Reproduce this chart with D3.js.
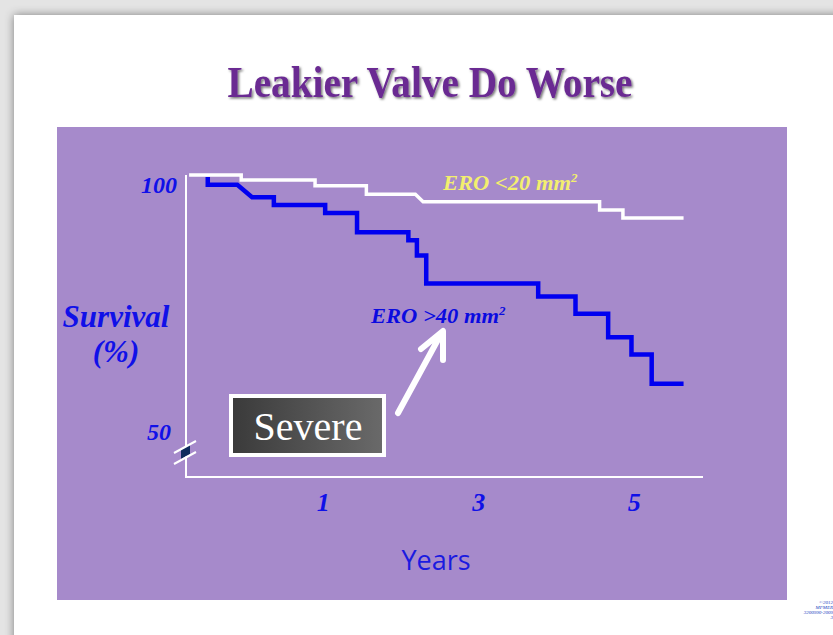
<!DOCTYPE html>
<html>
<head>
<meta charset="utf-8">
<script src="https://cdnjs.cloudflare.com/ajax/libs/d3/7.8.5/d3.min.js"></script>
<style>
  html, body { margin: 0; padding: 0; background: #e4e4e4; }
  svg { display: block; }
</style>
</head>
<body>
<div id="my_dataviz"></div>
<script>

// survival curves (time in years, survival in %)
var smallTime = [-0.72, -0.05, -0.05, 0.90, 0.90, 1.56, 1.56, 2.19, 2.29, 4.56, 4.56, 4.86, 4.86, 5.64]
var smallSurv = [100, 100, 99.0, 99.0, 97.8, 97.8, 96.1, 96.1, 94.6, 94.6, 92.9, 92.9, 91.3, 91.3]

var largeTime = [-0.48, -0.48, -0.10, 0.09, 0.37, 0.37, 1.03, 1.03, 1.44, 1.44, 2.10, 2.10, 2.21, 2.21,
                 2.33, 2.33, 3.77, 3.77, 4.25, 4.25, 4.67, 4.67, 4.97, 4.97, 5.23, 5.23, 5.64]
var largeSurv = [99.6, 98.0, 98.0, 95.5, 95.5, 93.9, 93.9, 92.3, 92.3, 88.4, 88.4, 86.8, 86.8, 83.7,
                 83.7, 78.0, 78.0, 75.4, 75.4, 71.9, 71.9, 67.1, 67.1, 63.6, 63.6, 57.7, 57.7]

var xTicks = [1, 3, 5]
var yTicks = [50, 100]

var width = 833, height = 635

var svg = d3.select("#my_dataviz")
  .append("svg")
    .attr("width", width)
    .attr("height", height)

var defs = svg.append("defs")

// slide shadow
var sh = defs.append("filter").attr("id", "slideShadow")
    .attr("x", "-10%").attr("y", "-10%").attr("width", "120%").attr("height", "120%")
sh.append("feDropShadow").attr("dx", 0).attr("dy", 0).attr("stdDeviation", 5)
    .attr("flood-color", "#000").attr("flood-opacity", 0.45)

var ts = defs.append("filter").attr("id", "titleShadow")
ts.append("feDropShadow").attr("dx", 1.5).attr("dy", 1.5).attr("stdDeviation", 1)
    .attr("flood-color", "#000").attr("flood-opacity", 0.55)

var grad = defs.append("linearGradient").attr("id", "boxGrad")
    .attr("x1", "0%").attr("x2", "100%").attr("y1", "0%").attr("y2", "0%")
grad.append("stop").attr("offset", "0%").attr("stop-color", "#3a3a3a")
grad.append("stop").attr("offset", "100%").attr("stop-color", "#6a6a6a")

// slide + purple panel
svg.append("rect")
    .attr("x", 14).attr("y", 15).attr("width", 860).attr("height", 660)
    .attr("fill", "#fff")
    .attr("filter", "url(#slideShadow)")

svg.append("rect")
    .attr("x", 57).attr("y", 127).attr("width", 730).attr("height", 473)
    .attr("fill", "#a68acb")

svg.append("text")
    .attr("x", 430).attr("y", 97)
    .attr("text-anchor", "middle")
    .attr("font-family", "'Liberation Serif', 'Times New Roman', serif")
    .attr("font-size", 45)
    .attr("font-weight", "bold")
    .attr("textLength", 405)
    .attr("lengthAdjust", "spacingAndGlyphs")
    .attr("fill", "#6a2b92")
    .attr("filter", "url(#titleShadow)")
    .text("Leakier Valve Do Worse")

// scales
var x = d3.scaleLinear()
    .domain([-0.76, 5.89])
    .range([186, 703])

var y = d3.scaleLinear()
    .domain([38.8, 100])
    .range([477, 175])

var serif = "'Liberation Serif', 'Times New Roman', serif"

// X axis labels
svg.append("g")
    .attr("transform", "translate(0," + y.range()[0] + ")")
    .call(d3.axisBottom(x).tickValues(xTicks).tickSize(0).tickPadding(16).tickFormat(d3.format("d")))
    .call(function(g) { g.select(".domain").remove() })
    .selectAll("text")
      .attr("font-family", serif)
      .attr("font-size", 26)
      .attr("font-weight", "bold")
      .attr("font-style", "italic")
      .attr("fill", "#1010e8")

// Y axis labels
svg.append("g")
    .attr("transform", "translate(" + x.range()[0] + ",0)")
    .call(d3.axisLeft(y).tickValues(yTicks).tickSize(0).tickFormat(d3.format("d")))
    .call(function(g) { g.select(".domain").remove() })
    .selectAll("text")
      .attr("x", function(d) { return d === 50 ? -15 : -9 })
      .attr("dy", "0.72em")
      .attr("font-family", serif)
      .attr("font-size", 24)
      .attr("font-weight", "bold")
      .attr("font-style", "italic")
      .attr("fill", "#1010e8")

// axis lines
svg.append("path")
    .attr("d", "M" + x.range()[0] + "," + y.range()[1] + "V" + y.range()[0] + "H" + x.range()[1])
    .attr("fill", "none")
    .attr("stroke", "#fff")
    .attr("stroke-width", 2)

// axis break mark
var brk = svg.append("g")
brk.append("path")
    .attr("d", "M181,449 L190,444 L190,454 L181,459 Z")
    .attr("fill", "#0d2a5c")
brk.append("path")
    .attr("d", "M174,453 L196,441 M174,464 L196,452")
    .attr("stroke", "#fff")
    .attr("stroke-width", 2)

// curves
var line = d3.line()
    .x(function(d) { return x(d[0]) })
    .y(function(d) { return y(d[1]) })

svg.append("path")
    .datum(d3.zip(smallTime, smallSurv))
    .attr("d", line)
    .attr("fill", "none")
    .attr("stroke", "#fff")
    .attr("stroke-width", 3.5)

svg.append("path")
    .datum(d3.zip(largeTime, largeSurv))
    .attr("d", line)
    .attr("fill", "none")
    .attr("stroke", "#0000f0")
    .attr("stroke-width", 4.5)

// series labels
function eroLabel(px, py, sign, fill) {
  var t = svg.append("text")
      .attr("x", px).attr("y", py)
      .attr("font-family", serif)
      .attr("font-size", 21)
      .attr("font-weight", "bold")
      .attr("font-style", "italic")
      .attr("fill", fill)
  t.append("tspan").attr("textLength", 128).attr("lengthAdjust", "spacingAndGlyphs").text("ERO " + sign + " mm")
  t.append("tspan").attr("dy", -8).attr("font-size", 13).text("2")
}
eroLabel(443, 190, "<20", "#f3ef6e")
eroLabel(371, 323, ">40", "#0a0ae0")

// axis titles
svg.append("text")
    .attr("x", 116).attr("y", 327)
    .attr("text-anchor", "middle")
    .attr("font-family", serif)
    .attr("font-size", 31)
    .attr("font-weight", "bold")
    .attr("font-style", "italic")
    .attr("fill", "#1010e8")
    .text("Survival")

svg.append("text")
    .attr("x", 116).attr("y", 362)
    .attr("text-anchor", "middle")
    .attr("font-family", serif)
    .attr("font-size", 31)
    .attr("font-weight", "bold")
    .attr("font-style", "italic")
    .attr("fill", "#1010e8")
    .text("(%)")

svg.append("text")
    .attr("x", 436).attr("y", 570)
    .attr("text-anchor", "middle")
    .attr("font-family", "'Open Sans', 'Noto Sans', sans-serif")
    .attr("font-size", 27)
    .attr("fill", "#1a1ae0")
    .text("Years")

// arrow
svg.append("path")
    .attr("d", "M398,413 L441,334 M421,349 L443,331 L443,360")
    .attr("fill", "none")
    .attr("stroke", "#fff")
    .attr("stroke-width", 6)
    .attr("stroke-linecap", "round")
    .attr("stroke-linejoin", "round")

// "Severe" box
svg.append("rect")
    .attr("x", 231).attr("y", 396).attr("width", 153).attr("height", 59)
    .attr("fill", "url(#boxGrad)")
    .attr("stroke", "#fff")
    .attr("stroke-width", 4)

svg.append("text")
    .attr("x", 308).attr("y", 440)
    .attr("text-anchor", "middle")
    .attr("font-family", serif)
    .attr("font-size", 40)
    .attr("fill", "#fff")
    .text("Severe")

// footer
var foot = ["\u00a92012", "MFMER", "3200990-2009", "3"]
svg.append("g").selectAll("text")
  .data(foot)
  .enter().append("text")
    .attr("x", 833)
    .attr("y", function(d, i) { return 604 + i * 5 })
    .attr("text-anchor", "end")
    .attr("font-family", serif)
    .attr("font-size", 5)
    .attr("font-style", "italic")
    .attr("fill", "#2040c0")
    .text(function(d) { return d })

</script>
</body>
</html>
